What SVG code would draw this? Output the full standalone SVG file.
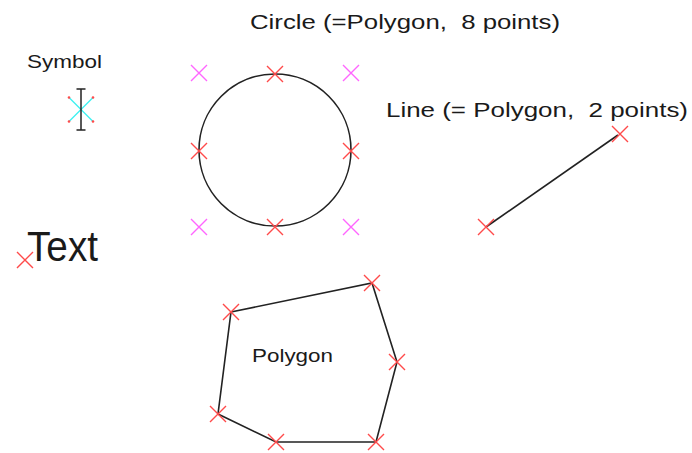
<svg xmlns="http://www.w3.org/2000/svg" width="692" height="453" viewBox="0 0 692 453">
<style>
.lbl{font-family:"Liberation Sans",Arial,sans-serif;fill:#1a1a1a;white-space:pre;}
.shape{fill:none;stroke:#222;stroke-width:1.6;}
.xr{stroke:#ff4a4a;stroke-width:1.4;fill:none;}
.xp{stroke:#ff66ff;stroke-width:1.4;fill:none;}
</style>
<defs>
<path id="xm" d="M-8,-8L8,8M-8,8L8,-8"/>
</defs>
<rect width="692" height="453" fill="#fff"/>
<g id="symbol">
<text class="lbl" x="27" y="68" font-size="19" textLength="75" lengthAdjust="spacingAndGlyphs">Symbol</text>
<path d="M69,97.5L93,121.5M69,121.5L93,97.5" stroke="#40f0f0" stroke-width="1.4"/>
<circle cx="69" cy="97.5" r="1.3" fill="#ff4a4a"/>
<circle cx="93" cy="97.5" r="1.3" fill="#ff4a4a"/>
<circle cx="69" cy="121.5" r="1.3" fill="#ff4a4a"/>
<circle cx="93" cy="121.5" r="1.3" fill="#ff4a4a"/>
<path d="M81,89V130M76.5,89H85.5M76.5,130H85.5" stroke="#222" stroke-width="1.5"/>
</g>
<g id="text">
<text class="lbl" x="27" y="261" font-size="43" textLength="71" lengthAdjust="spacingAndGlyphs">Text</text>
<use href="#xm" class="xr" x="25" y="260"/>
</g>
<g id="circle">
<text class="lbl" x="250" y="29" font-size="20" textLength="310" lengthAdjust="spacingAndGlyphs" xml:space="preserve">Circle (=Polygon,  8 points)</text>
<circle class="shape" cx="275" cy="150" r="76"/>
<use href="#xm" class="xp" x="199" y="73"/>
<use href="#xm" class="xp" x="351" y="73"/>
<use href="#xm" class="xp" x="199" y="227"/>
<use href="#xm" class="xp" x="351" y="227"/>
<use href="#xm" class="xr" x="275" y="74"/>
<use href="#xm" class="xr" x="199" y="151"/>
<use href="#xm" class="xr" x="351" y="151"/>
<use href="#xm" class="xr" x="275" y="227"/>
</g>
<g id="line">
<text class="lbl" x="386" y="117" font-size="20" textLength="302" lengthAdjust="spacingAndGlyphs" xml:space="preserve">Line (= Polygon,  2 points)</text>
<line class="shape" x1="486" y1="227" x2="618" y2="135"/>
<use href="#xm" class="xr" x="486" y="227"/>
<use href="#xm" class="xr" x="620" y="134"/>
</g>
<g id="polygon">
<polygon class="shape" points="231,312 372,283 397,362 376,442 276,442 218,414"/>
<text class="lbl" x="252" y="362" font-size="19" textLength="81" lengthAdjust="spacingAndGlyphs">Polygon</text>
<use href="#xm" class="xr" x="231" y="312"/>
<use href="#xm" class="xr" x="372" y="283"/>
<use href="#xm" class="xr" x="397" y="362"/>
<use href="#xm" class="xr" x="376" y="442"/>
<use href="#xm" class="xr" x="276" y="442"/>
<use href="#xm" class="xr" x="218" y="414"/>
</g>
</svg>
